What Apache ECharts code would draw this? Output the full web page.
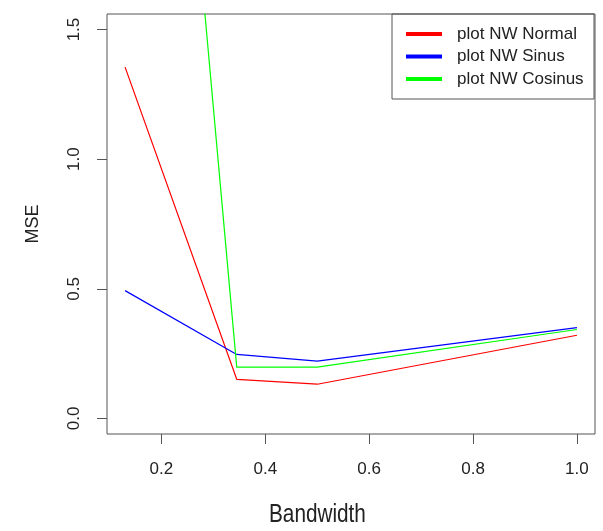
<!DOCTYPE html>
<html>
<head>
<meta charset="utf-8">
<script src="https://cdn.jsdelivr.net/npm/echarts@6/dist/echarts.min.js"></script>
<style>
  html, body { margin: 0; padding: 0; background: #fff; }
  #main { width: 603px; height: 531px; }
</style>
</head>
<body>
<div id="main"></div>
<script>
// bandwidth values and MSE per method
const bandwidth = [0.13, 0.345, 0.5, 1.0];
const mseNormal = [1.355, 0.151, 0.132, 0.321];
const mseSinus = [0.493, 0.247, 0.221, 0.350];
const mseCosinus = [4.98, 0.198, 0.198, 0.343];

const xTicks = [0.2, 0.4, 0.6, 0.8, 1.0];
const yTicks = [0.0, 0.5, 1.0, 1.5];

const seriesNames = ["plot NW Normal", "plot NW Sinus", "plot NW Cosinus"];
const seriesColors = ["#ff0000", "#0000ff", "#00ff00"];

function pairs(ys) {
  return bandwidth.map((x, i) => [x, ys[i]]);
}

const font = "Liberation Sans, Arial, sans-serif";

let myChart = echarts.init(document.getElementById("main"));

const option = {
  backgroundColor: "#fff",
  animation: false,
  grid: {
    left: 107,
    right: 8,
    top: 14,
    bottom: 97,
    show: true,
    borderColor: "#555",
    borderWidth: 1
  },
  legend: {
    orient: "vertical",
    left: 406,
    top: 23,
    padding: 0,
    itemGap: 0.5,
    itemWidth: 36,
    itemHeight: 4,
    icon: "rect",
    textStyle: {
      fontFamily: font,
      fontSize: 17,
      color: "#222",
      lineHeight: 22,
      padding: [0, 0, 0, 10]
    },
    data: seriesNames.map((n, i) => ({ name: n, itemStyle: { color: seriesColors[i] } }))
  },
  graphic: [
    {
      type: "rect",
      shape: { x: 392, y: 14, width: 202, height: 85 },
      style: { fill: "none", stroke: "#555", lineWidth: 1 },
      z: 10
    },
    {
      // narrow-looking axis title, placed like the original (not centred on the plot)
      type: "text",
      x: 269,
      y: 503,
      scaleX: 0.83,
      style: {
        text: "Bandwidth",
        font: "25px Liberation Sans, Arial, sans-serif",
        fill: "#222"
      }
    }
  ],
  xAxis: {
    type: "value",
    min: 0.0952,
    max: 1.0348,
    axisLine: { show: false, onZero: false },
    splitLine: { show: false },
    axisTick: {
      show: true,
      length: 10,
      customValues: xTicks,
      lineStyle: { color: "#555" }
    },
    axisLabel: {
      customValues: xTicks,
      margin: 27,
      fontFamily: font,
      fontSize: 17,
      color: "#222",
      formatter: v => v.toFixed(1)
    }
  },
  yAxis: {
    type: "value",
    min: -0.06,
    max: 1.56,
    name: "MSE",
    nameLocation: "middle",
    nameRotate: 90,
    nameGap: 65,
    nameTextStyle: { fontFamily: font, fontSize: 18, color: "#222" },
    axisLine: { show: false, onZero: false },
    splitLine: { show: false },
    axisTick: {
      show: true,
      length: 10,
      customValues: yTicks,
      lineStyle: { color: "#555" }
    },
    axisLabel: {
      customValues: yTicks,
      rotate: 90,
      margin: 24,
      fontFamily: font,
      fontSize: 17,
      color: "#222",
      formatter: v => v.toFixed(1)
    }
  },
  series: [
    { name: seriesNames[0], data: pairs(mseNormal) },
    { name: seriesNames[1], data: pairs(mseSinus) },
    { name: seriesNames[2], data: pairs(mseCosinus) }
  ].map((s, i) => ({
    name: s.name,
    type: "line",
    data: s.data,
    showSymbol: false,
    clip: true,
    color: seriesColors[i],
    lineStyle: { color: seriesColors[i], width: 1.2 }
  }))
};

myChart.setOption(option);
</script>
</body>
</html>
